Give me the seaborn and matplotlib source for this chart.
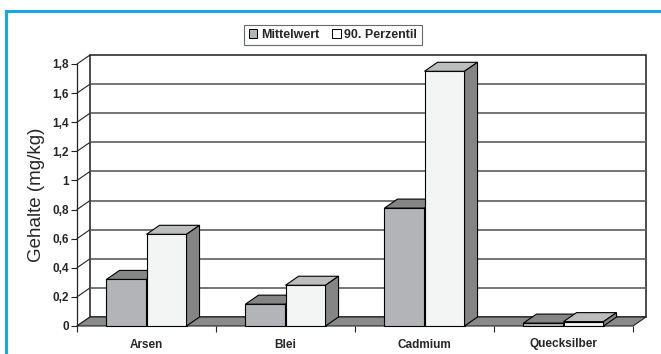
import numpy as np
import pandas as pd
import matplotlib
matplotlib.use("Agg")
import matplotlib.pyplot as plt
from matplotlib.patches import Polygon, Rectangle
from matplotlib.lines import Line2D
import seaborn as sns

# Schwermetallgehalte (mg/kg)
elemente = ["Arsen", "Blei", "Cadmium", "Quecksilber"]
mittelwert = [0.32, 0.15, 0.81, 0.02]
perzentil_90 = [0.63, 0.28, 1.75, 0.03]
serien = ["Mittelwert", "90. Perzentil"]
y_ticks = [0, 0.2, 0.4, 0.6, 0.8, 1.0, 1.2, 1.4, 1.6, 1.8]
y_tick_labels = ["0", "0,2", "0,4", "0,6", "0,8", "1", "1,2", "1,4", "1,6", "1,8"]

df = pd.DataFrame({
    "Element": elemente * 2,
    "Kennwert": [serien[0]] * 4 + [serien[1]] * 4,
    "Gehalt": mittelwert + perzentil_90,
})

sns.set_style("white")
plt.rcParams["font.family"] = ["Liberation Sans", "DejaVu Sans"]

W, H = 661, 354
fig = plt.figure(figsize=(W / 100, H / 100), dpi=100)

# outer frame
fig.patches.append(Rectangle((6 / W, -0.05), 1.2, 1 - 11 / H + 0.05,
                             transform=fig.transFigure, fill=False,
                             edgecolor="#1aa7e6", linewidth=2.2))

# plot area: front plane of the pseudo-3D chart
x_left, x_right, y_zero, y_top = 77, 633, 326, 64
ax = fig.add_axes([x_left / W, (H - y_zero) / H,
                   (x_right - x_left) / W, (y_zero - y_top) / H])
ax.set_xlim(-0.5, 3.5)
ax.set_ylim(0, 1.8)

# depth offset (in data units)
ddx = 13 / ((x_right - x_left) / 4)
ddy = 9 / ((y_zero - y_top) / 1.8)

c_m_front, c_m_top, c_m_side = "#b3b4b7", "#858585", "#7d7d7d"
c_p_front, c_p_top, c_p_side = "#f3f4f4", "#bdbdbd", "#858585"
c_floor = "#8a8a8a"

sns.barplot(data=df, x="Element", y="Gehalt", hue="Kennwert",
            palette=[c_m_front, c_p_front], saturation=1, width=0.576,
            edgecolor="black", linewidth=0.8, legend=False, ax=ax)
bars = [p for p in ax.patches if isinstance(p, Rectangle)]

# back wall
ax.add_patch(Rectangle((-0.5 + ddx, ddy), 4, 1.8, facecolor="white",
                       edgecolor="#1a1a1a", linewidth=1.1, zorder=0.5,
                       clip_on=False))
for v in y_ticks[1:-1]:
    ax.add_line(Line2D([-0.5 + ddx, 3.5 + ddx], [v + ddy, v + ddy],
                       color="#5e5e5e", linewidth=1.2, zorder=0.6, clip_on=False))
# left side wall
for v in y_ticks:
    ax.add_line(Line2D([-0.5, -0.5 + ddx], [v, v + ddy], color="#222222",
                       linewidth=0.8, zorder=0.7, clip_on=False))
ax.add_line(Line2D([-0.5, -0.5], [0, 1.8], color="#222222", linewidth=0.9,
                   zorder=0.7, clip_on=False))
# floor
ax.add_patch(Polygon([(-0.5, 0), (3.5, 0), (3.5 + ddx, ddy), (-0.5 + ddx, ddy)],
                     closed=True, facecolor=c_floor, edgecolor="#222222",
                     linewidth=0.8, zorder=1, clip_on=False))

# extrude bars into boxes
for p in bars:
    fc = matplotlib.colors.to_hex(p.get_facecolor())
    is_m = fc == c_m_front
    z = 3 if is_m else 4
    x0, w, h = p.get_x(), p.get_width(), p.get_height()
    p.set_zorder(z)
    p.set_clip_on(False)
    ax.add_patch(Polygon([(x0, h), (x0 + w, h), (x0 + w + ddx, h + ddy), (x0 + ddx, h + ddy)],
                         closed=True, facecolor=c_m_top if is_m else c_p_top,
                         edgecolor="black", linewidth=0.8, zorder=z, clip_on=False))
    ax.add_patch(Polygon([(x0 + w, 0), (x0 + w + ddx, ddy), (x0 + w + ddx, h + ddy), (x0 + w, h)],
                         closed=True, facecolor=c_m_side if is_m else c_p_side,
                         edgecolor="black", linewidth=0.8, zorder=z, clip_on=False))

for s in ax.spines.values():
    s.set_visible(False)

ax.set_yticks(y_ticks)
ax.set_yticklabels(y_tick_labels, fontsize=8.5, fontweight="bold")
ax.set_xticks(range(4))
ax.set_xticklabels(elemente, fontsize=8.5, fontweight="bold")
ax.set_xticks([-0.5, 0.5, 1.5, 2.5, 3.5], minor=True)
ax.tick_params(axis="y", length=4, width=0.8, color="#222222", pad=2, left=True)
ax.tick_params(axis="x", which="major", length=0, pad=9)
ax.tick_params(axis="x", which="minor", length=4, width=0.8, color="#222222", bottom=True)
ax.set_xlabel("")
ax.set_ylabel("Gehalte (mg/kg)", fontsize=13.5, labelpad=5)

# legend
handles = [Rectangle((0, 0), 1, 1, facecolor=c_m_front, edgecolor="black", linewidth=0.7),
           Rectangle((0, 0), 1, 1, facecolor="white", edgecolor="black", linewidth=0.7)]
leg = fig.legend(handles, serien, loc="center", bbox_to_anchor=(333 / W, 1 - 35 / H),
                 ncol=2, frameon=True, fancybox=False, edgecolor="#444444",
                 prop={"weight": "bold", "size": 9}, handlelength=0.7,
                 handleheight=0.7, handletextpad=0.3, columnspacing=1.0,
                 borderpad=0.35, borderaxespad=0)
leg.get_frame().set_linewidth(0.8)

fig.savefig("out.png", dpi=100)
